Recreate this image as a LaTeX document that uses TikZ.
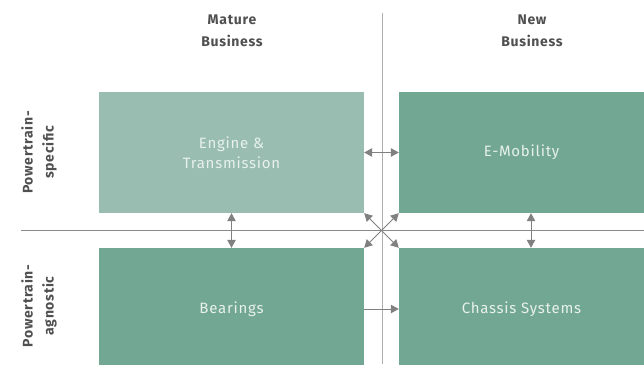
\documentclass[tikz,border=0pt]{standalone}
\usepackage{fontspec}
\setmainfont{Fira Sans}
\newfontfamily\boxfont[LetterSpace=5]{Fira Sans}
\newfontfamily\headfont[LetterSpace=5]{Fira Sans}
\usetikzlibrary{arrows.meta}
\definecolor{lightgreen}{HTML}{99BDB0}
\definecolor{darkgreen}{HTML}{72A794}
\definecolor{boxtext}{HTML}{E8F1ED}
\definecolor{headtext}{HTML}{505050}
\definecolor{arrowgray}{HTML}{808080}
\definecolor{vline}{HTML}{AEAEAE}
\definecolor{hline}{HTML}{8A8A8A}
\tikzset{
  quad/.style={rectangle, inner sep=0pt, draw=none, text=boxtext, align=center,
    font=\boxfont\fontsize{15}{20}\selectfont},
  head/.style={align=center, text=headtext, font=\headfont\bfseries\fontsize{14}{22}\selectfont},
  side/.style={align=center, text=headtext, rotate=90, font=\headfont\bfseries\fontsize{14}{21}\selectfont},
  link/.style={draw=arrowgray, line width=1pt, {Triangle[length=8pt,width=8.5pt]}-{Triangle[length=8pt,width=8.5pt]}},
  onelink/.style={draw=arrowgray, line width=1pt, -{Triangle[length=8pt,width=8.5pt]}}
}
\begin{document}
\begin{tikzpicture}[x=1pt,y=-1pt]
\useasboundingbox (0,0) rectangle (644,364);
% axes
\coordinate (vtop) at (382,13);
\coordinate (vbot) at (382,364);
\coordinate (hleft) at (21,230);
\coordinate (hright) at (644,230);
\draw[vline, line width=1pt] (vtop) -- (vbot);
\draw[hline, line width=1pt] (hleft) -- (hright);
% quadrants
\node[quad, fill=lightgreen, minimum width=265pt, minimum height=121pt] (eng) at (231.5,152.5) {Engine \&\\Transmission};
\node[quad, fill=darkgreen, minimum width=245pt, minimum height=121pt] (emob) at (521.5,152.5) {E-Mobility};
\node[quad, fill=darkgreen, minimum width=265pt, minimum height=122pt] (bear) at (231.5,309) {Bearings};
\node[quad, fill=darkgreen, minimum width=245pt, minimum height=122pt] (chas) at (521.5,309) {Chassis Systems};
% headers
\node[head] (mature) at (232,31) {Mature\\Business};
\node[head] (new) at (532,31) {New\\Business};
\node[side] (pspec) at (39,152.5) {Powertrain-\\specific};
\node[side] (pagn) at (39,306) {Powertrain-\\agnostic};
% connectors
\draw[link] (eng.east) -- (emob.west);
\draw[link] (eng.south) -- (bear.north);
\draw[link] ([xshift=9.5pt]emob.south) -- ([xshift=9.5pt]chas.north);
\draw[link] (eng.south east) -- (chas.north west);
\draw[link] (emob.south west) -- (bear.north east);
\draw[onelink] (bear.east) -- (chas.west);
\end{tikzpicture}
\end{document}
